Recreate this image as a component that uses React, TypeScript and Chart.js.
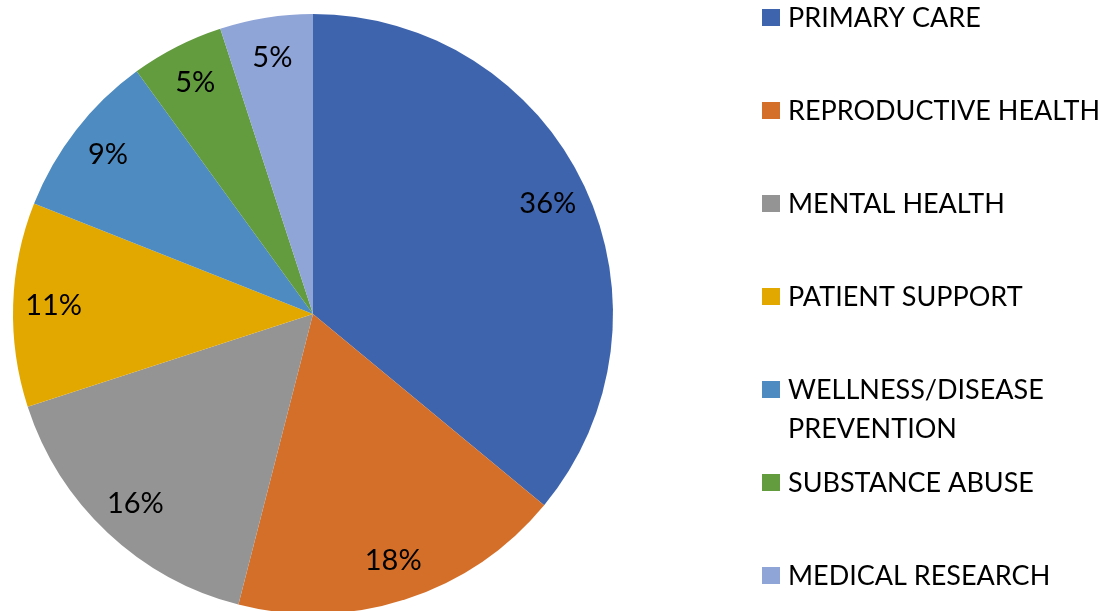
import React, { useEffect, useRef } from "react";
import { Chart, registerables } from "chart.js";

Chart.register(...registerables);

const categories: string[][] = [
  ["PRIMARY CARE"],
  ["REPRODUCTIVE HEALTH"],
  ["MENTAL HEALTH"],
  ["PATIENT SUPPORT"],
  ["WELLNESS/DISEASE", "PREVENTION"],
  ["SUBSTANCE ABUSE"],
  ["MEDICAL RESEARCH"],
];
const shares = [36, 18, 16, 11, 9, 5, 5];
const percentLabels = ["36%", "18%", "16%", "11%", "9%", "5%", "5%"];
const colors = ["#3E64AE", "#D46F2A", "#949494", "#E2A800", "#4E8BC0", "#639B3F", "#8FA4D7"];

const FONT = "Lato, 'Open Sans', sans-serif";

const labelsPlugin = {
  id: "pctLabels",
  afterDatasetsDraw(chart: any) {
    const ctx = chart.ctx;
    const meta = chart.getDatasetMeta(0);
    ctx.save();
    ctx.fillStyle = "#000";
    ctx.font = `29px ${FONT}`;
    ctx.textAlign = "center";
    ctx.textBaseline = "middle";
    meta.data.forEach((arc: any, i: number) => {
      const { x, y, startAngle, endAngle, outerRadius } = arc.getProps(
        ["x", "y", "startAngle", "endAngle", "outerRadius"],
        true
      );
      const mid = (startAngle + endAngle) / 2;
      const r = outerRadius * 0.865;
      ctx.fillText(percentLabels[i], x + Math.cos(mid) * r, y + Math.sin(mid) * r);
    });
    ctx.restore();
  },
};

const legendPlugin = {
  id: "sideLegend",
  afterDraw(chart: any) {
    const ctx = chart.ctx;
    ctx.save();
    ctx.font = `27px ${FONT}`;
    ctx.textBaseline = "middle";
    ctx.textAlign = "left";
    const x0 = 762;
    const step = 93;
    const lineH = 39;
    categories.forEach((lines, i) => {
      const cy = 17.5 + i * step;
      ctx.fillStyle = colors[i];
      ctx.fillRect(x0, cy - 8.5, 18, 17);
      ctx.fillStyle = "#000";
      lines.forEach((t, j) => ctx.fillText(t, 788, cy + 0.5 + j * lineH));
    });
    ctx.restore();
  },
};

export default function App() {
  const ref = useRef<HTMLCanvasElement>(null);
  useEffect(() => {
    if (!ref.current) return;
    const chart = new Chart(ref.current, {
      type: "pie",
      data: {
        labels: categories.map((c) => c.join(" ")),
        datasets: [
          {
            data: shares,
            backgroundColor: colors,
            borderWidth: 0,
          },
        ],
      },
      options: {
        animation: false,
        responsive: false,
        maintainAspectRatio: false,
        layout: { padding: { left: 13, right: 492, top: 14, bottom: 14 } },
        plugins: {
          legend: { display: false },
          tooltip: { enabled: false },
        },
      },
      plugins: [labelsPlugin, legendPlugin],
    });
    return () => chart.destroy();
  }, []);
  return (
    <div
      style={{
        position: "fixed",
        left: 0,
        top: 0,
        width: 1105,
        height: 611,
        overflow: "hidden",
        background: "#fff",
      }}
    >
      <canvas ref={ref} width={1105} height={628} style={{ display: "block" }} />
    </div>
  );
}
